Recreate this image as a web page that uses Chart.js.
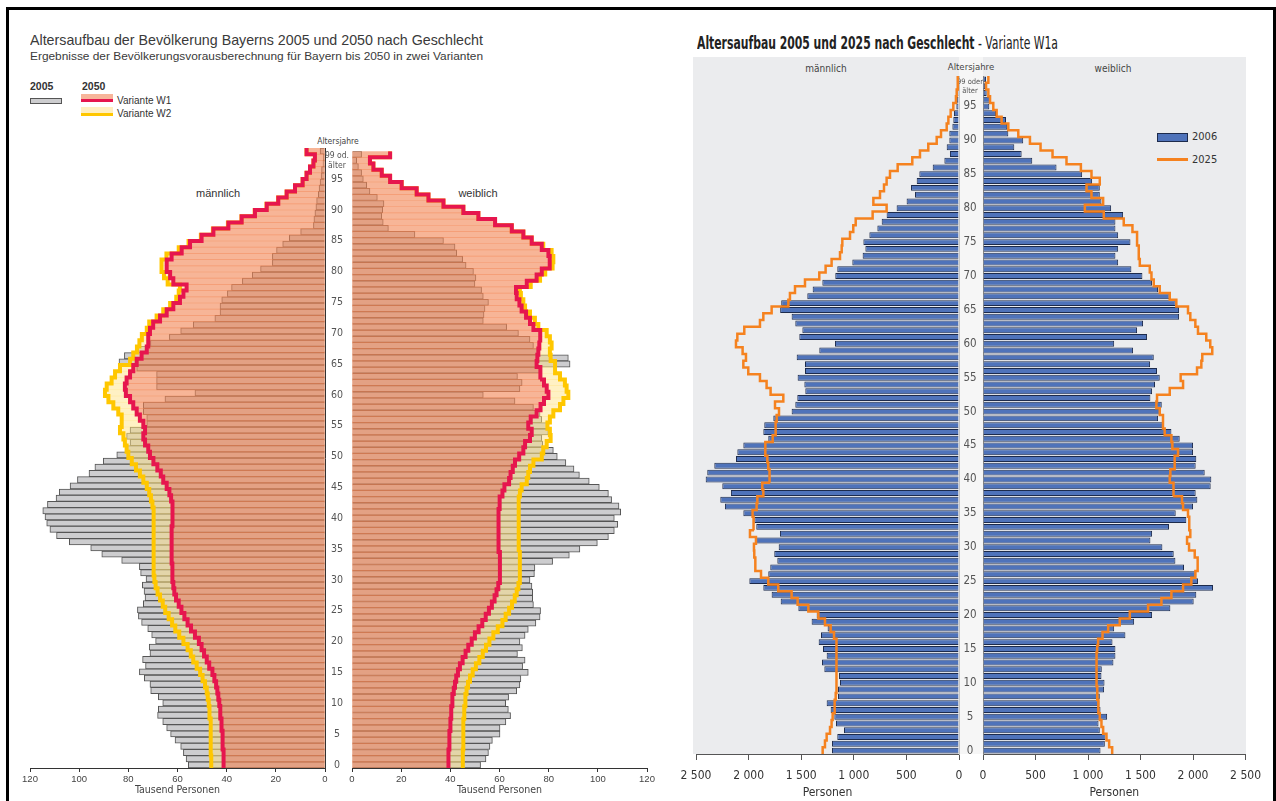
<!DOCTYPE html>
<html lang="de">
<head>
<meta charset="utf-8">
<title>Altersaufbau Bayern</title>
<script src="https://cdn.jsdelivr.net/npm/chart.js@4.4.1/dist/chart.umd.min.js"></script>
<style>
  body { margin:0; width:1276px; height:801px; position:relative; overflow:hidden; background:#fff;
         font-family:"Liberation Sans", Arial, sans-serif; color:#333; }
  .abs { position:absolute; white-space:nowrap; }
  canvas { position:absolute; }
  .frame { position:absolute; left:6px; top:7px; width:1264px; height:800px; border:3px solid #000; border-bottom:none; }
  .fit { display:inline-block; transform-origin:0 50%; }
  .narrow { font-family:"Liberation Sans Narrow", "DejaVu Sans Condensed", sans-serif; }
  .c { text-align:center; }
</style>
</head>
<body>
<div class="frame"></div>

<!-- left panel texts -->
<div class="abs fit" id="t1" style="left:30px;top:31px;font-size:15px;color:#3a3a3a">Altersaufbau der Bevölkerung Bayerns 2005 und 2050 nach Geschlecht</div>
<div class="abs fit" id="t2" style="left:30px;top:50px;font-size:11.5px;color:#3a3a3a">Ergebnisse der Bevölkerungsvorausberechnung für Bayern bis 2050 in zwei Varianten</div>
<div class="abs" style="left:30px;top:80px;font-size:10.5px;font-weight:bold;color:#333">2005</div>
<div class="abs" style="left:82px;top:80px;font-size:10.5px;font-weight:bold;color:#333">2050</div>
<div class="abs" style="left:30px;top:98px;width:32px;height:6px;box-sizing:border-box;background:#cdcdcf;border:1px solid #555"></div>
<div class="abs" style="left:81px;top:94px;width:32px;height:5px;background:#f7b59a"></div>
<div class="abs" style="left:81px;top:99px;width:32px;height:3px;background:#e6164e"></div>
<div class="abs" style="left:117px;top:95px;font-size:10px;color:#333">Variante W1</div>
<div class="abs" style="left:81px;top:107px;width:32px;height:6px;background:#ffefc0"></div>
<div class="abs" style="left:81px;top:113px;width:32px;height:3px;background:#ffc700"></div>
<div class="abs" style="left:117px;top:108px;font-size:10px;color:#333">Variante W2</div>
<div class="abs c" style="left:168px;top:187px;width:100px;font-size:11px;color:#333">männlich</div>
<div class="abs c" style="left:428px;top:187px;width:100px;font-size:11px;color:#333">weiblich</div>
<div class="abs c narrow" style="left:308px;top:136px;width:60px;font-size:8.5px;color:#444">Altersjahre</div>

<!-- right panel background -->
<div class="abs" style="left:693px;top:57px;width:553px;height:697px;background:#ebecee"></div>
<div class="abs" style="left:959px;top:57px;width:24px;height:697px;background:#f6f6f6"></div>
<div class="abs fit narrow" id="t3" style="left:697px;top:32px;font-size:18px;color:#222"><b>Altersaufbau 2005 und 2025 nach Geschlecht</b> - Variante W1a</div>
<div class="abs c narrow" style="left:786px;top:63px;width:80px;font-size:10px;color:#444">männlich</div>
<div class="abs c narrow" style="left:936px;top:61px;width:70px;font-size:9.5px;color:#444">Altersjahre</div>
<div class="abs c narrow" style="left:1073px;top:63px;width:80px;font-size:10px;color:#444">weiblich</div>
<div class="abs" style="left:1157px;top:133px;width:31px;height:9px;box-sizing:border-box;background:#4f73ba;border:1px solid #1d2b4c"></div>
<div class="abs narrow" style="left:1192px;top:130px;font-size:11px;color:#333">2006</div>
<div class="abs" style="left:1157px;top:158px;width:31px;height:3px;background:#f5821f"></div>
<div class="abs narrow" style="left:1192px;top:153px;font-size:11px;color:#333">2025</div>

<canvas id="lm" width="317" height="662" style="left:18px;top:138px"></canvas>
<canvas id="lf" width="350" height="662" style="left:313px;top:138px"></canvas>
<canvas id="rm" width="293" height="740" style="left:676px;top:60px"></canvas>
<canvas id="rf" width="325" height="740" style="left:945px;top:60px"></canvas>

<script>
// ages 0 .. 99 (99 = "99 oder älter")
const ages = Array.from({ length: 100 }, (_, i) => i);
const ageTicks = [0, 5, 10, 15, 20, 25, 30, 35, 40, 45, 50, 55, 60, 65, 70, 75, 80, 85, 90, 95];
const topTick = 98;
const leftTopLabel = ['99 od.', 'älter'];
const rightTopLabel = ['99 oder', 'älter'];
const leftTicks = [0, 20, 40, 60, 80, 100, 120];
const rightTicks = [0, 500, 1000, 1500, 2000, 2500];

// left panel, Tausend Personen
const leftMale2005 = [55.6, 56.5, 57.6, 58.7, 61, 62.8, 64.4, 66, 68.1, 67.8,
  66, 67.8, 70.9, 71.2, 73.5, 75.5, 73, 74.2, 71.2, 71.5,
  68.9, 70.5, 72.1, 74.6, 75.9, 76.3, 73.9, 73.2, 73.6, 74.3,
  72.8, 75, 75.5, 82.7, 90.8, 95.3, 104, 109.2, 111.9, 113.2,
  113.9, 114.8, 112.9, 109.4, 108.1, 103.7, 100.7, 96, 93.6, 90.2,
  84.7, 80.5, 79.3, 80.7, 79.3, 72.5, 72.5, 73.9, 73.9, 65.1,
  52.9, 68.5, 68.5, 68.5, 76.6, 83.8, 81.6, 76, 71, 63.3,
  58.7, 53.6, 44.8, 42.7, 42.7, 42, 39.7, 38, 33.6, 29.6,
  26.2, 21.4, 21.4, 19.7, 17.2, 14.5, 9.9, 4.7, 4.5, 4.1,
  3.7, 3.4, 2.7, 2.4, 2.0, 1.6, 1.4, 0.8, 0.7, 2.0];
const leftMaleW1 = [41.1, 41.2, 41.4, 41.5, 41.6, 41.8, 41.9, 42.2, 42.4, 42.7,
  43, 43.4, 43.8, 44.3, 45, 45.8, 47.1, 48.1, 49.2, 50.2,
  51.3, 52.9, 54.5, 55.9, 57.2, 58.4, 59.5, 60.6, 61.3, 61.7,
  62, 62, 62.2, 62.3, 62.4, 62.4, 62.4, 62.4, 62.4, 62.1,
  62, 62, 62.1, 62.6, 63.3, 64.4, 65.8, 66.8, 68.2, 69.8,
  71.2, 71.9, 73.2, 73.9, 73.2, 73.9, 75.3, 76.6, 78, 79.3,
  81, 81.4, 80.7, 79.3, 78, 76.6, 74.6, 72.5, 71.9, 71.9,
  71.2, 69.9, 67.1, 64.4, 61.7, 59, 57.6, 56.3, 61.7, 63,
  64.4, 64.4, 62.4, 58.3, 54.9, 50.2, 45.4, 39.3, 33.9, 28.5,
  23.7, 19, 15.6, 12.2, 9.1, 7.5, 6.1, 4.7, 4.1, 7.5];
const leftMaleW2 = [46.2, 46.3, 46.4, 46.4, 46.5, 46.5, 46.5, 46.6, 46.8, 47.1,
  47.3, 47.7, 48.1, 48.8, 49.8, 50.8, 52.2, 53.6, 54.6, 55.9,
  57.6, 59.3, 60.9, 62.2, 63.6, 65, 66, 67.1, 68.1, 68.9,
  69.4, 69.7, 69.7, 69.7, 69.7, 69.7, 69.7, 69.7, 69.7, 69.7,
  69.7, 69.8, 70.2, 70.8, 71.5, 72.5, 73.9, 75.3, 76.9, 78.6,
  80, 80.7, 81.4, 82, 83.4, 82.7, 82.7, 84.1, 86.1, 88.1,
  89.5, 88.8, 86.8, 85.4, 83.4, 79.3, 78, 76.5, 75.5, 74.5,
  72.5, 71.5, 68.5, 65.8, 63, 60.5, 59.5, 59, 64, 65.5,
  66.5, 66.5, 64.5, 59.5, 55.5, 50.5, 45.6, 39.5, 34, 28.6,
  23.8, 19.1, 15.6, 12.2, 9.1, 7.5, 6.1, 4.7, 4.1, 7.5];
const leftFemale2005 = [52.3, 54.5, 55.5, 56.1, 57.1, 60.2, 60.2, 62.6, 64.5, 63.6,
  62.5, 63.7, 67, 68.3, 68.7, 71.7, 69.4, 70.4, 67.3, 69.3,
  68.3, 70.4, 71.7, 74.8, 76.5, 76.7, 73.8, 73.5, 73.5, 73.2,
  72.4, 74.2, 74.4, 81.6, 88.4, 92.7, 99.8, 104.3, 106.7, 108.1,
  106.7, 109.3, 108.6, 105.6, 104.3, 100.6, 96.5, 92.5, 90.3, 87,
  83.5, 81.9, 77.6, 77.2, 79.9, 79.2, 77.2, 76.5, 73.8, 66.3,
  53.4, 68.3, 69.2, 67.3, 77.2, 88.7, 88, 76, 73.8, 72.4,
  67.7, 62.9, 53.4, 53.7, 54.1, 55.5, 53.4, 52.7, 50, 50.4,
  49.4, 46.4, 45, 42.6, 41.9, 37.2, 25.6, 14.8, 12.7, 12.1,
  12.5, 13, 10.3, 7.3, 6, 4.6, 3.9, 2.6, 1.9, 3.9];
const leftFemaleW1 = [39.2, 39.2, 39.3, 39.5, 39.6, 39.7, 39.9, 40.1, 40.3, 40.4,
  40.7, 40.9, 41.4, 41.9, 42.4, 43.1, 43.9, 45, 46.2, 47.3,
  48.7, 50, 51.5, 53, 54.4, 55.7, 56.9, 58, 58.8, 59.5,
  59.9, 60.2, 60.2, 60.2, 60.2, 59.7, 59.6, 59.6, 59.6, 59.6,
  59.5, 59.7, 59.8, 60.2, 61.2, 62, 63.9, 64.5, 65.4, 66.3,
  68, 69.7, 70.4, 72.4, 73.1, 71.7, 72.7, 75.1, 76.7, 78.1,
  79.9, 79.2, 78.1, 76.5, 76.7, 75.1, 75.4, 75.8, 76.2, 76.7,
  76.5, 73.8, 72.4, 70.8, 69, 68.1, 67, 66.7, 71.1, 75.1,
  77.2, 80.3, 80.5, 79.9, 77.2, 73.1, 69.7, 65, 58.2, 51.4,
  45.3, 37.2, 31.1, 26.3, 20.2, 15.5, 12.1, 8.7, 7.3, 15.5];
const leftFemaleW2 = [45, 45.1, 45.1, 45.2, 45.2, 45.3, 45.3, 45.4, 45.6, 45.7,
  46, 46.2, 46.6, 47.2, 48, 49.1, 50.4, 51.8, 53.2, 54.5,
  55.9, 57.5, 59.3, 61.2, 62.5, 63.9, 65.1, 66.2, 67, 67.7,
  68.1, 68.3, 68.3, 68.3, 68.3, 67.8, 67.8, 67.8, 67.8, 67.8,
  67.8, 67.8, 67.8, 67.9, 68.3, 69, 71.1, 71.7, 72.4, 73.8,
  77.2, 77.8, 79.2, 80.8, 80.5, 79.5, 80.5, 81.9, 84.6, 86,
  88, 87.3, 86.6, 84.6, 82.6, 82.6, 80.8, 80.5, 81.2, 80.5,
  79.2, 75.8, 74.4, 72.4, 70.4, 69.7, 68.7, 68.3, 72.7, 76.5,
  78.6, 81.6, 81.9, 81.2, 77.8, 73.1, 69.7, 65, 58.2, 51.4,
  45.3, 37.2, 31.1, 26.3, 20.2, 15.5, 12.1, 8.7, 7.3, 15.5];

// right panel, Personen
const rightMale2005 = [1207, 1207, 1157, 1093, 1169, 1185, 1220, 1258, 1150, 1150,
  1131, 1141, 1280, 1302, 1258, 1293, 1334, 1312, 1249, 1401,
  1353, 1527, 1695, 1781, 1860, 1993, 1813, 1794, 1727, 1756,
  1714, 1930, 1702, 1927, 1946, 2050, 2225, 2269, 2168, 2250,
  2408, 2393, 2326, 2120, 2107, 2050, 1813, 1860, 1851, 1765,
  1591, 1556, 1537, 1461, 1470, 1534, 1464, 1464, 1543, 1328,
  1179, 1518, 1489, 1556, 1591, 1700, 1690, 1442, 1391, 1299,
  1176, 1157, 1014, 916, 890, 909, 852, 776, 735, 688,
  593, 498, 418, 456, 402, 377, 250, 139, 86, 117,
  92, 92, 63, 54, 48, 25, 20, 15, 10, 15];
const rightMale2025 = [1296, 1274, 1258, 1226, 1211, 1201, 1188, 1179, 1172, 1169,
  1166, 1163, 1163, 1163, 1163, 1163, 1169, 1188, 1220, 1274,
  1337, 1432, 1534, 1591, 1718, 1813, 1882, 1930, 1939, 1946,
  1949, 1930, 1987, 1949, 1955, 1962, 1924, 1917, 1860, 1870,
  1797, 1803, 1813, 1822, 1835, 1844, 1771, 1749, 1740, 1733,
  1711, 1749, 1670, 1791, 1829, 1892, 2003, 2050, 2025, 2057,
  2120, 2107, 2041, 1892, 1860, 1781, 1622, 1607, 1559, 1464,
  1328, 1268, 1211, 1131, 1115, 1109, 1036, 1005, 982, 821,
  688, 814, 751, 713, 688, 656, 583, 444, 371, 292,
  212, 171, 117, 101, 79, 54, 29, 22, 16, 10];
const rightFemale2005 = [1119, 1160, 1166, 1112, 1100, 1182, 1119, 1109, 1112, 1153,
  1157, 1128, 1131, 1242, 1261, 1261, 1233, 1356, 1249, 1439,
  1610, 1784, 2006, 2031, 2190, 2047, 2031, 1914, 1832, 1816,
  1708, 1594, 1610, 1771, 1936, 1835, 2000, 2041, 2025, 2168,
  2174, 2111, 2025, 2031, 2000, 2000, 1873, 1794, 1714, 1667,
  1689, 1702, 1594, 1610, 1638, 1683, 1657, 1591, 1626, 1429,
  1249, 1562, 1467, 1524, 1867, 1867, 1835, 1778, 1667, 1610,
  1518, 1413, 1287, 1261, 1287, 1404, 1287, 1261, 1261, 1334,
  1220, 1128, 1112, 1112, 1039, 944, 700, 469, 368, 298,
  383, 241, 231, 219, 124, 60, 67, 35, 19, 29];
const rightFemale2025 = [1230, 1201, 1176, 1144, 1128, 1112, 1103, 1096, 1090, 1087,
  1084, 1081, 1081, 1081, 1081, 1087, 1096, 1138, 1192, 1302,
  1398, 1572, 1699, 1794, 1905, 1984, 2022, 2038, 2047, 2016,
  1962, 1943, 1974, 1968, 1962, 1952, 1905, 1895, 1810, 1816,
  1778, 1784, 1825, 1825, 1857, 1803, 1794, 1730, 1714, 1714,
  1683, 1651, 1657, 1778, 1905, 1882, 2038, 2079, 2088, 2183,
  2164, 2126, 2047, 2022, 1974, 1952, 1841, 1778, 1683, 1626,
  1604, 1588, 1493, 1483, 1483, 1467, 1467, 1423, 1340, 1150,
  970, 1144, 1033, 986, 1112, 1033, 932, 795, 662, 548,
  447, 336, 241, 177, 130, 98, 67, 51, 29, 51];

const NARROW = '"Liberation Sans Narrow", "DejaVu Sans Condensed", sans-serif';
const SANS = '"Liberation Sans", Arial, sans-serif';
const fullBar = { grouped: false, barPercentage: 1, categoryPercentage: 1 };

// outline of an age band series: one vertical piece per age
const stepLine = (values) => {
  const pts = [];
  values.forEach((v, i) => {
    pts.push({ x: v, y: ages[i] - 0.5 });
    pts.push({ x: v, y: ages[i] + 0.5 });
  });
  return pts;
};

const fmtPersons = (v) => v >= 1000 ? Math.floor(v / 1000) + ' ' + String(v % 1000).padStart(3, '0') : String(v);

function ageAxis(showLabels, width, topLabel, sizes, border) {
  if (!showLabels) {
    return {
      type: 'linear', min: -0.5, max: 99.5, offset: false, position: 'right',
      ticks: { display: false }, grid: { display: false, drawTicks: false },
      border: border,
      afterFit: s => { s.width = 0; }
    };
  }
  return {
    type: 'linear', min: -0.5, max: 99.5, offset: false, position: 'left',
    grid: { display: false, drawTicks: false },
    border: border,
    ticks: {
      autoSkip: false, padding: sizes.pad, crossAlign: 'center', color: '#555',
      font: c => ({ family: NARROW, size: c.tick && c.tick.value === topTick ? sizes.top : sizes.num }),
      callback: v => v === topTick ? topLabel : String(v)
    },
    afterBuildTicks: s => { s.ticks = ageTicks.concat([topTick]).map(v => ({ value: v })); },
    afterFit: s => { s.width = width; }
  };
}

function leftChart(id, male, v2005, vW1, vW2) {
  return new Chart(document.getElementById(id), {
    type: 'bar',
    data: {
      labels: ages,
      datasets: [
        { type: 'line', label: 'Variante W1', data: stepLine(vW1), borderColor: '#e6164e', borderWidth: 4, pointRadius: 0, order: 0 },
        { type: 'line', label: 'Variante W2', data: stepLine(vW2), borderColor: '#ffc700', borderWidth: 4, pointRadius: 0, order: 1 },
        { label: '2050 W1', data: vW1, backgroundColor: 'rgba(242,132,82,0.6)', order: 2, ...fullBar },
        { label: '2050 W2', data: vW2.map((v, i) => [vW1[i], v]), backgroundColor: 'rgba(255,223,121,0.44)', order: 3, ...fullBar },
        { label: '2005', data: v2005, backgroundColor: '#cdcdcf', borderColor: '#555', borderWidth: 1, order: 4, ...fullBar }
      ]
    },
    options: {
      indexAxis: 'y', responsive: false, animation: false,
      layout: { padding: male ? { left: 12, right: 10, top: 10, bottom: 1 } : { left: 11, right: 16, top: 10, bottom: 1 } },
      plugins: { legend: { display: false }, tooltip: { enabled: false } },
      scales: {
        x: {
          type: 'linear', min: 0, max: 120, reverse: male,
          afterBuildTicks: s => { s.ticks = leftTicks.map(v => ({ value: v })); },
          ticks: { color: '#444', font: { family: SANS, size: 9.5 }, padding: 2, maxRotation: 0 },
          grid: { drawOnChartArea: false, tickLength: 4, color: '#333' },
          border: { color: '#333' },
          title: { display: true, text: 'Tausend Personen', color: '#444', font: { family: NARROW, size: 10.5 }, padding: { top: 0, bottom: 2 } },
          afterFit: s => { s.height = 31; }
        },
        y: male ? ageAxis(false, 0, null, null, { display: true, color: '#333', dash: [3, 3] })
                : ageAxis(true, 28, leftTopLabel, { top: 8.5, num: 10.5, pad: 3 }, { display: false })
      }
    }
  });
}

function rightChart(id, male, v2005, v2025) {
  return new Chart(document.getElementById(id), {
    type: 'bar',
    data: {
      labels: ages,
      datasets: [
        { type: 'line', label: '2025', data: stepLine(v2025), borderColor: '#f5821f', borderWidth: 2.5, pointRadius: 0, order: 0 },
        { label: '2006', data: v2005, backgroundColor: '#4f73ba', borderColor: '#1d2b4c', borderWidth: 1,
          grouped: false, barPercentage: 0.88, categoryPercentage: 1, order: 1 }
      ]
    },
    options: {
      indexAxis: 'y', responsive: false, animation: false,
      layout: { padding: male ? { left: 20, right: 10, top: 16, bottom: 0 } : { left: 14, right: 24, top: 16, bottom: 0 } },
      plugins: { legend: { display: false }, tooltip: { enabled: false } },
      scales: {
        x: {
          type: 'linear', min: 0, max: 2500, reverse: male,
          afterBuildTicks: s => { s.ticks = rightTicks.map(v => ({ value: v })); },
          ticks: { color: '#333', font: { family: NARROW, size: 12 }, padding: 9, maxRotation: 0, callback: fmtPersons },
          grid: { drawOnChartArea: false, tickLength: 6, color: '#555' },
          border: { color: '#555' },
          title: { display: true, text: 'Personen', color: '#333', font: { family: NARROW, size: 12 }, padding: { top: 0, bottom: 0 } },
          afterFit: s => { s.height = 46; }
        },
        y: male ? ageAxis(false, 0, null, null, { display: true, color: '#c4c4c4' })
                : ageAxis(true, 24, rightTopLabel, { top: 7.5, num: 11.5, pad: 0 }, { display: true, color: '#8a8a8a' })
      }
    }
  });
}

leftChart('lm', true, leftMale2005, leftMaleW1, leftMaleW2);
leftChart('lf', false, leftFemale2005, leftFemaleW1, leftFemaleW2);
rightChart('rm', true, rightMale2005, rightMale2025);
rightChart('rf', false, rightFemale2005, rightFemale2025);

// squeeze titles to the width they have in the original
function fitWidth(id, w) {
  const el = document.getElementById(id);
  const k = w / el.getBoundingClientRect().width;
  el.style.transform = 'scaleX(' + k + ')';
}
fitWidth('t1', 453);
fitWidth('t2', 453);
fitWidth('t3', 361);
</script>
</body>
</html>
